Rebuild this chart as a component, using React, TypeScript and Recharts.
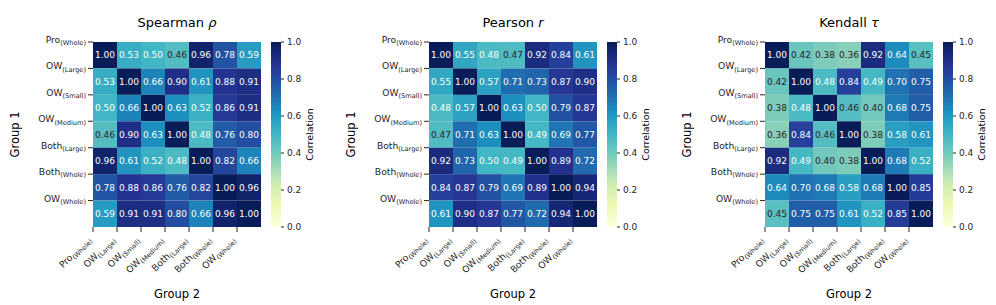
import React from "react";
import {
  ScatterChart,
  Scatter,
  XAxis,
  YAxis,
  BarChart,
  Bar,
  Label,
} from "recharts";

// labels: main text + subscript
const NAMES = ["Pro", "OW", "OW", "OW", "Both", "Both", "OW"];
const SUBS = ["Whole", "Large", "Small", "Medium", "Large", "Whole", "Whole"];

const spearman = [
  [1.0, 0.53, 0.5, 0.46, 0.96, 0.78, 0.59],
  [0.53, 1.0, 0.66, 0.9, 0.61, 0.88, 0.91],
  [0.5, 0.66, 1.0, 0.63, 0.52, 0.86, 0.91],
  [0.46, 0.9, 0.63, 1.0, 0.48, 0.76, 0.8],
  [0.96, 0.61, 0.52, 0.48, 1.0, 0.82, 0.66],
  [0.78, 0.88, 0.86, 0.76, 0.82, 1.0, 0.96],
  [0.59, 0.91, 0.91, 0.8, 0.66, 0.96, 1.0],
];

const pearson = [
  [1.0, 0.55, 0.48, 0.47, 0.92, 0.84, 0.61],
  [0.55, 1.0, 0.57, 0.71, 0.73, 0.87, 0.9],
  [0.48, 0.57, 1.0, 0.63, 0.5, 0.79, 0.87],
  [0.47, 0.71, 0.63, 1.0, 0.49, 0.69, 0.77],
  [0.92, 0.73, 0.5, 0.49, 1.0, 0.89, 0.72],
  [0.84, 0.87, 0.79, 0.69, 0.89, 1.0, 0.94],
  [0.61, 0.9, 0.87, 0.77, 0.72, 0.94, 1.0],
];

const kendall = [
  [1.0, 0.42, 0.38, 0.36, 0.92, 0.64, 0.45],
  [0.42, 1.0, 0.48, 0.84, 0.49, 0.7, 0.75],
  [0.38, 0.48, 1.0, 0.46, 0.4, 0.68, 0.75],
  [0.36, 0.84, 0.46, 1.0, 0.38, 0.58, 0.61],
  [0.92, 0.49, 0.4, 0.38, 1.0, 0.68, 0.52],
  [0.64, 0.7, 0.68, 0.58, 0.68, 1.0, 0.85],
  [0.45, 0.75, 0.75, 0.61, 0.52, 0.85, 1.0],
];

const CB_TICKS = [0, 0.2, 0.4, 0.6, 0.8, 1.0];
const GRID_TICKS = [0, 1, 2, 3, 4, 5, 6];

// YlGnBu
const YLGNBU = [
  "#ffffd9", "#edf8b1", "#c7e9b4", "#7fcdbb", "#41b6c4",
  "#1d91c0", "#225ea8", "#253494", "#081d58",
];

const FONT = "DejaVu Sans";
const INK = "#262626";

const PANEL_W = 336;
const H = 305;
const PLOT_L = 93;
const PLOT_T = 42;
const PLOT_W = 168;
const PLOT_H = 185;
const Y_AXIS_W = 88;
const X_AXIS_H = 70;
const CELL_W = PLOT_W / 7;
const CELL_H = PLOT_H / 7;

const hexToRgb = (h: string) => [
  parseInt(h.slice(1, 3), 16),
  parseInt(h.slice(3, 5), 16),
  parseInt(h.slice(5, 7), 16),
];

function cmap(v: number) {
  const t = Math.max(0, Math.min(1, v)) * (YLGNBU.length - 1);
  const i = Math.min(Math.floor(t), YLGNBU.length - 2);
  const f = t - i;
  const a = hexToRgb(YLGNBU[i]);
  const b = hexToRgb(YLGNBU[i + 1]);
  return a.map((c, k) => c + (b[k] - c) * f);
}

// seaborn style text colour from luminance
function textColor(rgb: number[]) {
  const lin = rgb.map((c) => {
    const s = c / 255;
    return s <= 0.03928 ? s / 12.92 : Math.pow((s + 0.055) / 1.055, 2.4);
  });
  const lum = 0.2126 * lin[0] + 0.7152 * lin[1] + 0.0722 * lin[2];
  return lum > 0.408 ? INK : "#ffffff";
}

const CellShape = (props: any) => {
  const { cx, cy, payload } = props;
  const rgb = cmap(payload.v);
  return (
    <g>
      <rect
        x={cx - CELL_W / 2}
        y={cy - CELL_H / 2}
        width={CELL_W}
        height={CELL_H}
        fill={`rgb(${rgb.map(Math.round).join(",")})`}
      />
      <text
        x={cx}
        y={cy}
        dy="0.36em"
        textAnchor="middle"
        fontSize={9}
        fontFamily={FONT}
        fill={textColor(rgb)}
      >
        {payload.v.toFixed(2)}
      </text>
    </g>
  );
};

const YTick = ({ x, y, payload }: any) => (
  <text x={x} y={y} dy={1} textAnchor="end" fontSize={9.2} fontFamily={FONT} fill={INK}>
    {NAMES[payload.value]}
    <tspan fontSize={6.6} dy={2.3}>
      ({SUBS[payload.value]})
    </tspan>
  </text>
);

const XTick = ({ x, y, payload }: any) => (
  <g transform={`translate(${x - 1.5},${y + 5})`}>
    <text
      textAnchor="end"
      transform="rotate(-45)"
      fontSize={9.2}
      fontFamily={FONT}
      fill={INK}
    >
      {NAMES[payload.value]}
      <tspan fontSize={6.6} dy={2.3}>
        ({SUBS[payload.value]})
      </tspan>
    </text>
  </g>
);

function Heatmap({ matrix, title, sym, idx }: { matrix: number[][]; title: string; sym: string; idx: number }) {
  const data = matrix.flatMap((row, i) => row.map((v, j) => ({ x: j + 0.5, y: i + 0.5, v })));
  const ox = idx * PANEL_W;
  const gradId = `ylgnbu-${idx}`;

  return (
    <>
      <div
        style={{
          position: "absolute",
          left: ox + PLOT_L,
          top: 16,
          width: PLOT_W,
          textAlign: "center",
          fontSize: 13,
          lineHeight: "13px",
          fontFamily: FONT,
          color: "#000",
          whiteSpace: "nowrap",
        }}
      >
        {title} <i>{sym}</i>
      </div>
      <div style={{ position: "absolute", left: ox, top: 0 }}>
        <ScatterChart
          width={PANEL_W}
          height={H}
          margin={{
            top: PLOT_T,
            left: PLOT_L - Y_AXIS_W,
            right: PANEL_W - PLOT_L - PLOT_W,
            bottom: H - PLOT_T - PLOT_H - X_AXIS_H,
          }}
        >
          <XAxis
            type="number"
            dataKey="x"
            domain={[0, 7]}
            ticks={GRID_TICKS}
            interval={0}
            height={X_AXIS_H}
            axisLine={false}
            tickSize={5}
            tickMargin={3}
            tickLine={{ stroke: INK }}
            tick={<XTick />}
          >
            <Label
              content={({ viewBox }: any) => (
                <text
                  x={viewBox.x + viewBox.width / 2}
                  y={viewBox.y + 71}
                  textAnchor="middle"
                  fontSize={11.5}
                  fontFamily={FONT}
                  fill="#000"
                >
                  Group 2
                </text>
              )}
            />
          </XAxis>
          <YAxis
            type="number"
            dataKey="y"
            domain={[0, 7]}
            reversed
            ticks={GRID_TICKS}
            interval={0}
            width={Y_AXIS_W}
            axisLine={false}
            tickSize={5}
            tickMargin={2}
            tickLine={{ stroke: INK }}
            tick={<YTick />}
          >
            <Label
              content={({ viewBox }: any) => {
                const cx = viewBox.x + 10;
                const cy = viewBox.y + viewBox.height / 2;
                return (
                  <text
                    x={cx}
                    y={cy}
                    dy="0.35em"
                    textAnchor="middle"
                    transform={`rotate(-90, ${cx}, ${cy})`}
                    fontSize={11.5}
                    fontFamily={FONT}
                    fill="#000"
                  >
                    Group 1
                  </text>
                );
              }}
            />
          </YAxis>
          <Scatter data={data} shape={CellShape} isAnimationActive={false} />
        </ScatterChart>
      </div>
      <div style={{ position: "absolute", left: ox + 271, top: 0 }}>
        <BarChart
          width={56}
          height={H}
          data={[{ name: "cb", v: 1 }]}
          margin={{ top: PLOT_T, bottom: H - PLOT_T - PLOT_H, left: 0, right: 0 }}
          barCategoryGap={0}
        >
          <defs>
            <linearGradient id={gradId} x1="0" y1="0" x2="0" y2="1">
              {YLGNBU.map((c, k) => (
                <stop key={k} offset={`${(k / (YLGNBU.length - 1)) * 100}%`} stopColor={YLGNBU[YLGNBU.length - 1 - k]} />
              ))}
            </linearGradient>
          </defs>
          <XAxis dataKey="name" hide />
          <YAxis
            orientation="right"
            domain={[0, 1]}
            ticks={CB_TICKS}
            interval={0}
            width={46}
            axisLine={false}
            tickSize={3}
            tickMargin={3}
            tickLine={{ stroke: INK }}
            tick={{ fontSize: 9, fontFamily: FONT, fill: INK }}
            tickFormatter={(v: number) => v.toFixed(1)}
          >
            <Label
              content={({ viewBox }: any) => {
                const cx = viewBox.x + 29;
                const cy = viewBox.y + viewBox.height / 2;
                return (
                  <text
                    x={cx}
                    y={cy}
                    dy="0.35em"
                    textAnchor="middle"
                    transform={`rotate(-90, ${cx}, ${cy})`}
                    fontSize={9.5}
                    fontFamily={FONT}
                    fill="#000"
                  >
                    Correlation
                  </text>
                );
              }}
            />
          </YAxis>
          <Bar dataKey="v" fill={`url(#${gradId})`} isAnimationActive={false} />
        </BarChart>
      </div>
    </>
  );
}

export default function App() {
  return (
    <div
      style={{
        position: "absolute",
        left: 0,
        top: 0,
        width: 996,
        height: H,
        background: "#fff",
        fontFamily: FONT,
        overflow: "hidden",
      }}
    >
      <Heatmap matrix={spearman} title="Spearman" sym="ρ" idx={0} />
      <Heatmap matrix={pearson} title="Pearson" sym="r" idx={1} />
      <Heatmap matrix={kendall} title="Kendall" sym="τ" idx={2} />
    </div>
  );
}
